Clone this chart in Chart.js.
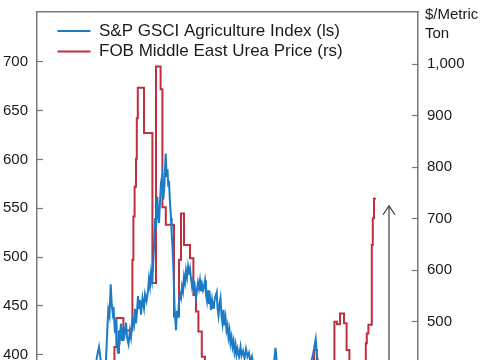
<!DOCTYPE html>
<html>
<head>
<meta charset="utf-8">
<title>Agriculture index vs urea price</title>
<script src="https://cdn.jsdelivr.net/npm/chart.js@4.4.1/dist/chart.umd.min.js"></script>
<style>
    html, body { margin: 0; padding: 0; background: #fff; overflow: hidden; }
    #wrap { width: 485px; height: 360px; overflow: hidden; }
</style>
</head>
<body>
<div id="wrap"><canvas id="myChart" width="485" height="560"></canvas></div>
<script>
// time in years from the start of the series (axis not shown in the crop)
const agriT = [
    0, 0.25, 0.5, 0.75, 1.0, 1.25, 1.5, 1.75, 2.0, 2.25, 2.5, 2.75, 2.9,
    3.0, 3.1, 3.175, 3.25, 3.35, 3.45, 3.525, 3.565, 3.625, 3.685, 3.735, 3.785, 3.825, 3.9, 3.95,
    4.0, 4.05, 4.1, 4.15, 4.2, 4.25, 4.3, 4.375, 4.45, 4.5, 4.575, 4.65, 4.7, 4.775, 4.85, 4.9, 4.95,
    5.0, 5.05, 5.1, 5.15, 5.2, 5.275, 5.35, 5.4, 5.475, 5.55, 5.6, 5.65, 5.7, 5.75, 5.8, 5.85, 5.9, 5.95,
    6.015, 6.05, 6.1, 6.15, 6.2, 6.265, 6.315, 6.375, 6.435, 6.485, 6.525, 6.565, 6.6, 6.65, 6.7, 6.735,
    6.775, 6.825, 6.875, 6.9, 6.95,
    7.0, 7.05, 7.1, 7.15, 7.2, 7.25, 7.3, 7.35, 7.4, 7.45, 7.5, 7.55, 7.6, 7.65, 7.7, 7.75, 7.8, 7.85, 7.9, 7.95,
    8.0, 8.05, 8.1, 8.15, 8.2, 8.25, 8.3, 8.35, 8.4, 8.45, 8.5, 8.55, 8.6, 8.65, 8.7, 8.75, 8.8, 8.85, 8.9, 8.985,
    9.025, 9.075, 9.125, 9.175, 9.225, 9.275, 9.325, 9.375, 9.425, 9.475, 9.525, 9.575, 9.625, 9.675, 9.725,
    9.775, 9.825, 9.875, 9.925, 9.975,
    10.025, 10.1, 10.175, 10.225, 10.3, 10.375, 10.45, 10.525, 10.6, 10.675, 10.75, 10.825, 10.95,
    11.15, 11.35, 11.55, 11.75, 11.85, 11.925, 12.0, 12.15, 12.4, 12.65, 12.9, 13.15, 13.4, 13.65, 13.8,
    13.935, 14.0, 14.15, 14.4, 14.65, 14.9, 15.15, 15.4, 15.65, 15.9, 16.15, 16.4, 16.65, 16.9
];
const agriIndex = [
    300, 305, 298, 310, 320, 315, 330, 325, 340, 355, 350, 370, 385,
    398, 408, 396, 385, 378, 395, 430, 446, 440, 472, 452, 443, 449, 422, 436,
    410, 402, 425, 418, 432, 415, 428, 420, 433, 418, 411, 425, 418, 436, 430, 447, 432,
    444, 460, 447, 456, 441, 458, 448, 462, 455, 465, 478, 470, 484, 476, 490, 510, 540, 528,
    562, 546, 535, 556, 576, 584, 559, 575, 606, 582, 590, 572, 578, 555, 540, 524,
    510, 485, 450, 440, 425,
    445, 438, 455, 462, 458, 470, 465, 480, 474, 486, 479, 490, 482, 488, 478, 470, 476, 462, 468, 458,
    466, 474, 468, 476, 465, 472, 466, 470, 476, 462, 455, 466, 452, 458, 446, 456, 448, 452, 458, 464,
    448, 440, 452, 458, 440, 432, 446, 430, 438, 425, 430, 418, 425, 412, 418,
    408, 414, 403, 410, 400,
    406, 398, 408, 399, 404, 396, 406, 398, 402, 392, 398, 388, 380,
    372, 365, 376, 385, 392, 407, 390, 378, 370, 362, 368, 372, 380, 388, 400,
    416, 398, 385, 372, 365, 358, 350, 355, 362, 370, 378, 385, 390, 388
];

// urea price moves in steps: each value holds from its time until the next one
const ureaT = [
    0, 0.4, 0.9, 1.4, 1.9, 2.4, 2.9, 3.4, 3.87, 3.97, 4.32, 4.77, 4.82, 4.88, 4.95, 4.99, 5.04,
    5.35, 5.77, 5.95, 6.18, 6.27, 6.44, 6.85, 7.1, 7.2, 7.35, 7.65, 7.82, 7.95, 8.07, 8.24, 8.4,
    8.65, 9.05, 9.55, 10.15, 10.75, 11.25, 11.75, 12.35, 12.95, 13.45, 13.75, 13.85, 13.99, 14.25,
    14.65, 14.87, 15.0, 15.15, 15.35, 15.48, 15.62, 15.9, 16.25, 16.44, 16.49, 16.57, 16.74, 16.79,
    16.85, 16.9
];
const ureaPrice = [
    225, 240, 260, 250, 280, 300, 330, 380, 451, 507, 483, 620, 704, 762, 816, 895, 954,
    866, 575, 995, 951, 722, 688, 510, 620, 710, 649, 623, 552, 520, 481, 432, 390,
    350, 300, 270, 290, 320, 300, 280, 300, 270, 320, 380, 445, 380, 330,
    360, 500, 495, 516, 497, 445, 380, 360, 400, 458, 477, 494, 649, 701,
    739, 740
];

const leftTicks = [200, 250, 300, 350, 400, 450, 500, 550, 600, 650, 700];
const rightTicks = [100, 200, 300, 400, 500, 600, 700, 800, 900, 1000];

// rise arrow, in right-axis units
const arrowT = 17.6;
const arrowFrom = 250;
const arrowTo = 725;

const blue = '#1c7bc7';
const red = '#bf2f3e';
const axisGrey = '#787878';
const textColor = '#1a1a1a';
const fontFamily = "'Liberation Sans', Arial, sans-serif";

const toPoints = (xs, ys) => xs.map((x, i) => ({ x: x, y: ys[i] }));

// ticks sit at fixed values, so no extra room is needed for edge labels
const noEdgePadding = s => {
    s.paddingTop = 0;
    s.paddingBottom = 0;
};

// legend sits inside the plot, a little in from the corner
const legendShift = {
    id: 'legendShift',
    beforeDraw(chart) {
        chart.legend.left = chart.chartArea.left + 17;
        chart.legend.top = chart.chartArea.top + 7;
    }
};

const unitTitle = {
    id: 'unitTitle',
    afterDraw(chart) {
        const ctx = chart.ctx;
        const x = chart.chartArea.right + 7;
        ctx.save();
        ctx.font = '15px ' + fontFamily;
        ctx.fillStyle = textColor;
        ctx.textBaseline = 'middle';
        ctx.fillText('$/Metric', x, 15);
        ctx.fillText('Ton', x, 34);
        ctx.restore();
    }
};

const riseArrow = {
    id: 'riseArrow',
    afterDatasetsDraw(chart) {
        const { ctx, scales } = chart;
        const x = scales.x.getPixelForValue(arrowT);
        const yTop = scales.y2.getPixelForValue(arrowTo);
        const yBottom = scales.y2.getPixelForValue(arrowFrom);
        ctx.save();
        ctx.strokeStyle = '#8a8a8a';
        ctx.lineWidth = 2;
        ctx.beginPath();
        ctx.moveTo(x, yBottom);
        ctx.lineTo(x, yTop + 1);
        ctx.stroke();
        ctx.strokeStyle = '#333';
        ctx.lineWidth = 1.2;
        ctx.beginPath();
        ctx.moveTo(x - 6, yTop + 9);
        ctx.lineTo(x, yTop);
        ctx.lineTo(x + 6, yTop + 9);
        ctx.stroke();
        ctx.restore();
    }
};

const ctx = document.getElementById('myChart').getContext('2d');
new Chart(ctx, {
    type: 'line',
    data: {
        datasets: [{
            label: 'S&P GSCI Agriculture Index (ls)',
            data: toPoints(agriT, agriIndex),
            yAxisID: 'y',
            borderColor: blue,
            backgroundColor: blue,
            borderWidth: 2,
            pointRadius: 0,
            tension: 0
        }, {
            label: 'FOB Middle East Urea Price (rs)',
            data: toPoints(ureaT, ureaPrice),
            yAxisID: 'y2',
            borderColor: red,
            backgroundColor: red,
            borderWidth: 2,
            pointRadius: 0,
            stepped: true
        }]
    },
    options: {
        responsive: false,
        animation: false,
        devicePixelRatio: 1,
        layout: { padding: { top: 12, bottom: 10, left: 0, right: 0 } },
        scales: {
            x: {
                type: 'linear',
                position: 'top',
                min: 0,
                max: 19.05,
                ticks: { display: false },
                grid: { display: false, drawTicks: false },
                border: { display: true, color: axisGrey, width: 1.5 },
                afterFit: s => { s.height = 0; s.paddingLeft = 0; s.paddingRight = 0; }
            },
            y: {
                position: 'left',
                min: 200,
                max: 751,
                afterBuildTicks: s => { s.ticks = leftTicks.map(v => ({ value: v })); },
                afterFit: s => { s.width = 37; noEdgePadding(s); },
                ticks: { padding: 15, color: textColor, font: { size: 15, family: fontFamily } },
                grid: { drawOnChartArea: false, drawTicks: true, tickLength: -6, color: axisGrey, tickWidth: 1.2 },
                border: { display: true, color: axisGrey, width: 1.5 }
            },
            y2: {
                position: 'right',
                min: 57,
                max: 1101,
                afterBuildTicks: s => { s.ticks = rightTicks.map(v => ({ value: v })); },
                afterFit: s => { s.width = 67; noEdgePadding(s); },
                ticks: {
                    padding: 15,
                    color: textColor,
                    font: { size: 15, family: fontFamily },
                    callback: v => v.toLocaleString('en-US')
                },
                grid: { drawOnChartArea: false, drawTicks: true, tickLength: -6, color: axisGrey, tickWidth: 1.2 },
                border: { display: true, color: axisGrey, width: 1.5 }
            }
        },
        plugins: {
            legend: {
                position: 'chartArea',
                align: 'start',
                labels: {
                    usePointStyle: true,
                    pointStyle: 'line',
                    pointStyleWidth: 33,
                    padding: 3.5,
                    color: textColor,
                    font: { size: 17, family: fontFamily }
                }
            },
            tooltip: { enabled: false }
        }
    },
    plugins: [legendShift, unitTitle, riseArrow]
});
</script>
</body>
</html>
